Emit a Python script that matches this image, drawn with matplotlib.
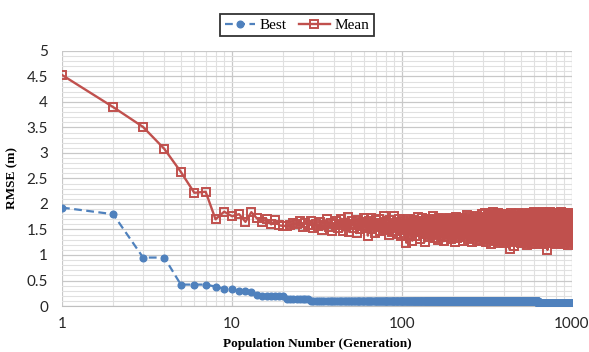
import numpy as np
import matplotlib
matplotlib.use("Agg")
import matplotlib.pyplot as plt
from matplotlib.ticker import FixedLocator, NullFormatter

# best RMSE as runs: (first generation, value)
best_runs = [
    (1, 1.93), (2, 1.80), (3, 0.95), (5, 0.42), (8, 0.38), (9, 0.34),
    (10, 0.33), (11, 0.29), (13, 0.27), (14, 0.21), (15, 0.20), (16, 0.19),
    (21, 0.13), (29, 0.09), (631, 0.055),
]
n_gen = 1000

# mean RMSE, generations 1..20
mean_head = [4.53, 3.90, 3.51, 3.08, 2.63, 2.22, 2.24, 1.70, 1.85, 1.76,
             1.80, 1.65, 1.84, 1.72, 1.65, 1.70, 1.60, 1.68, 1.58, 1.57]
# mean RMSE, generations 21..1000, hundredths above 0.97
mean_tail_codes = """
60 61 65 63 70 58 66 61 69 55 64 60 67 52 61 73 58 65 50 63
69 55 62 74 51 66 60 77 48 63 69 56 61 46 72 64 53 67 60 75
57 65 41 69 62 76 54 60 47 71 63 58 73 50 66 61 55 79 52 64
67 53 58 42 71 60 48 65 56 79 50 62 45 68 57 73 52 41 64 59
55 70 46 63 58 27 66 51 74 60 43 57 69 53 31 62 56 72 48 65
59 40 67 54 78 49 61 35 70 57 52 75 44 63 58 29 66 50 71 56
47 64 60 38 73 55 51 69 42 62 57 80 48 65 53 36 68 59 45 72
54 61 33 67 58 76 50 63 41 70 56 52 74 46 64 30 59 68 49 62
57 71 44 65 53 39 69 60 48 75 55 62 34 67 58 50 73 43 64 56
61 47 70 54 28 66 59 78 45 63 52 37 68 57 74 49 62 41 71 55
58 44 66 53 76 60 31 64 50 72 57 46 69 55 39 73 48 62 58 81
52 67 43 70 56 35 63 59 77 47 65 51 40 72 54 61 29 68 57 74
49 63 58 36 71 55 45 79 60 52 67 42 64 57 33 70 50 62 75 46
59 68 41 65 53 78 48 62 30 72 56 44 69 58 83 51 63 38 66 55
47 74 60 35 67 52 86 57 43 71 62 49 64 28 76 55 40 69 58 81
50 63 37 72 56 45 79 61 32 68 54 84 47 65 59 25 73 51 62 42
70 57 88 46 64 53 34 75 60 41 67 55 80 49 62 30 71 58 44 77
52 66 39 73 56 85 48 63 27 69 59 45 76 54 61 36 72 50 82 57
43 68 60 31 74 53 47 79 58 65 38 70 55 84 49 62 26 71 57 44
76 51 64 35 69 58 82 46 63 41 73 55 29 67 60 48 78 53 66 39
72 57 44 81 50 65 33 70 59 14 75 54 62 40 68 56 85 47 63 37
71 58 46 78 52 66 30 73 55 43 80 61 49 68 35 74 57 21 66 51
62 39 77 56 45 70 60 33 83 50 64 42 72 55 28 69 58 47 76 53
65 38 71 57 86 44 63 52 31 75 59 46 68 54 80 40 67 56 26 73
50 61 43 78 57 35 69 62 48 84 53 66 30 72 58 41 74 55 63 37
70 52 81 45 64 59 27 76 56 42 68 61 34 79 50 65 47 73 57 22
67 54 83 46 62 38 71 58 49 77 53 65 31 70 59 44 86 51 63 36
74 56 41 68 60 29 79 52 66 47 72 55 35 81 58 43 69 62 50 25
75 57 64 39 71 53 84 48 66 32 73 59 45 78 54 62 37 70 56 87
49 63 30 76 58 44 68 61 24 80 52 67 41 74 55 36 71 59 47 83
50 65 33 72 57 46 79 60 38 69 54 85 43 66 58 28 75 52 63 40
73 56 48 82 51 64 31 70 59 42 77 55 67 35 72 58 45 81 53 62
27 74 57 49 68 60 36 79 52 65 41 71 56 88 46 63 33 76 58 44
69 54 80 47 62 38 73 59 25 67 55 84 50 64 42 71 57 34 78 61
45 66 53 77 39 70 58 86 48 63 31 74 56 43 69 60 13 81 52 65
40 72 57 49 79 55 64 36 71 58 83 46 67 53 29 75 60 44 70 56
87 50 63 37 76 54 45 68 61 32 80 57 66 42 73 52 26 70 59 48
78 55 64 35 71 58 84 47 62 40 75 56 30 69 60 51 82 44 66 57
38 73 53 63 28 77 59 46 70 55 86 49 65 41 72 57 34 79 52 61
45 68 58 24 76 54 63 39 71 60 81 48 66 55 33 74 57 43 69 62
50 85 47 64 36 72 56 44 78 59 67 30 73 53 61 40 70 58 83 46
65 52 27 75 57 48 69 61 38 80 54 66 43 71 59 32 77 51 63 45
88 55 62 35 74 58 47 70 53 29 79 60 44 68 56 84 49 65 39 72
57 41 76 52 63 31 71 59 46 82 54 67 37 73 56 25 69 61 49 78
53 64 42 72 58 86 47 66 34 75 55 61 40 70 57 28 80 51 65 44
73 56 83 48 62 36 71 59 45 77 53 67 30 74 58 42 69 60 50 81
46 65 39 72 55 23 78 61 49 68 57 85 43 70 54 33 76 59 62 41
71 52 64 37 79 57 47 68 60 31 74 55 82 45 66 58 40 73 53 63
35 70 59 48 77 54 65 42 72 56 27 80 51 62 44 69 58 84 47 61
"""

mean_vals = np.array(mean_head + [0.97 + int(c) / 100 for c in mean_tail_codes.split()])
mean_gen = np.arange(1, len(mean_vals) + 1)

starts = [s for s, _ in best_runs] + [n_gen + 1]
best_vals = np.repeat([v for _, v in best_runs], np.diff(starts))
best_gen = np.arange(1, n_gen + 1)

blue = "#4F81BD"
red = "#C0504D"

fig = plt.figure(figsize=(5.89, 3.52), dpi=100)
ax = fig.add_axes([62 / 589, 46 / 352, 510 / 589, 255 / 352])

ax.plot(best_gen, best_vals, color=blue, linestyle=(0, (3.5, 2)), linewidth=1.6,
        marker="o", markersize=4.8, label="Best", zorder=3)
ax.plot(mean_gen, mean_vals, color=red, linewidth=1.7, marker="s", markersize=5.2,
        markerfacecolor="none", markeredgewidth=1.4, label="Mean", zorder=2)

ax.set_xscale("log")
ax.set_xlim(1, 1000)
ax.set_ylim(0, 5)
ax.xaxis.set_major_locator(FixedLocator([1, 10, 100, 1000]))
ax.set_xticklabels(["1", "10", "100", "1000"])
ax.xaxis.set_minor_locator(FixedLocator([m * 10 ** e for e in range(3) for m in range(2, 10)]))
ax.xaxis.set_minor_formatter(NullFormatter())
ax.set_yticks(np.arange(0, 5.01, 0.5))
ax.set_yticklabels(["0", "0.5", "1", "1.5", "2", "2.5", "3", "3.5", "4", "4.5", "5"])
ax.set_yticks(np.arange(0, 5.01, 0.1), minor=True)

ax.grid(True, which="major", color="#C8C8C8", linewidth=0.9)
ax.grid(True, which="minor", color="#E0E0E0", linewidth=0.8)
ax.set_axisbelow(True)
ax.tick_params(which="both", length=0, labelsize=11)
ax.tick_params(axis="x", pad=8)
ax.tick_params(axis="y", pad=10)
for lab in ax.get_xticklabels() + ax.get_yticklabels():
    lab.set_family("Lato")
    lab.set_color("#262626")
for side in ["top", "right", "left"]:
    ax.spines[side].set_visible(False)
ax.spines["bottom"].set_color("#BFBFBF")

ax.set_ylabel("RMSE (m)", family="Liberation Serif", fontweight="bold", fontsize=9.5, labelpad=6)
ax.set_xlabel("Population Number (Generation)", family="Liberation Serif", fontweight="bold",
              fontsize=9.5, labelpad=5)

leg = fig.legend(loc="center", bbox_to_anchor=(297 / 589, 1 - 25 / 352), ncol=2,
                 prop={"family": "Liberation Serif", "size": 11}, frameon=True,
                 fancybox=False, edgecolor="black", handlelength=2.0, handletextpad=0.3,
                 columnspacing=0.8, borderpad=0.3)
leg.get_frame().set_linewidth(1.3)

fig.savefig("out.png", dpi=100)
